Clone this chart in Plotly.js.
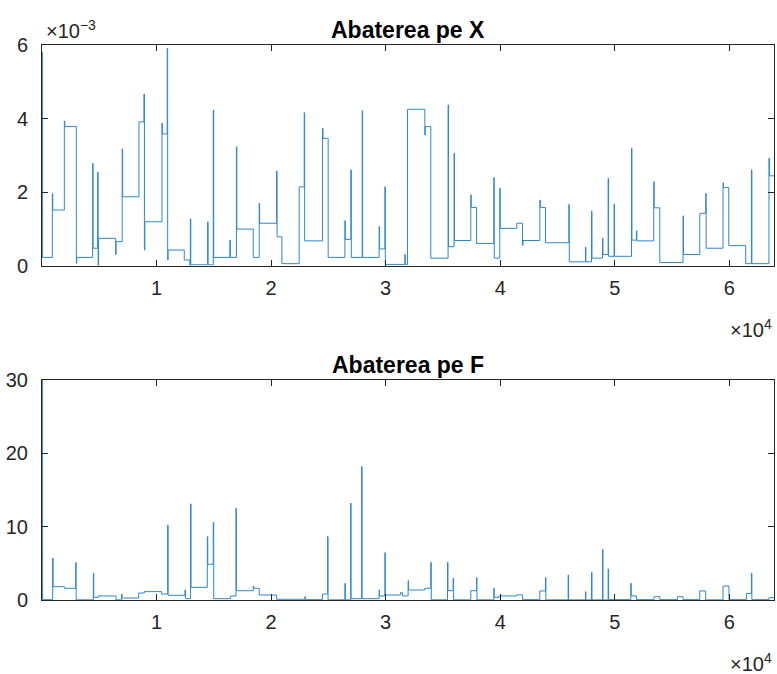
<!DOCTYPE html>
<html>
<head>
<meta charset="utf-8">
<script src="https://cdn.plot.ly/plotly-3.0.1.min.js"></script>
<style>
html,body{margin:0;padding:0;background:#fff;}
#chart{width:777px;height:674px;}
</style>
</head>
<body>
<div id="chart"></div>
<script>
// ---------- DATA ----------
// Top panel: deviation on X, values in units of 1e-3
const topStart = [0, 900, 1950, 3000, 4420, 4860, 6430, 7000, 8460, 8900,
  10470, 10930, 12420, 12910, 14460, 14950, 16400, 16970, 18440, 18960,
  20480, 20940, 22450, 22890, 24490, 24980, 26440, 26960, 27950, 29430,
  29930, 31675, 31910, 33420, 33940, 35450, 35970, 37430, 37930, 39440,
  39960, 41450, 41950, 43460, 43950, 45990, 47440, 47970, 48930, 49420,
  49940, 51460, 51890, 53400, 53930, 55960, 57420, 57940, 59450, 59950,
  61430, 61930, 63460];
const topSpikes = [[5.8], [1.95], [3.93], [0.06], [2.78], [2.54, 0], [0.3], [3.17], [], [4.66, 0.42],
  [3.87], [5.91, 0.15], [], [0, 1.27], [1.19], [4.23], [0.69], [3.23], [], [1.69],
  [2.57], [], [], [4.16], [3.73], [], [1.22], [2.6], [4.21], [1.06],
  [2.14], [0.3], [], [3.55], [], [4.37], [3.05], [1.92], [], [2.39],
  [2.1], [], [0.55], [1.78], [], [1.66], [0.5], [1.48], [0.74], [2.37],
  [1.67], [3.19], [0.94], [2.28], [], [1.35], [1.4], [1.96], [2.25], [],
  [], [2.6], [2.92]];
const topLevel = [0.22, 1.51, 3.78, 0.22, 0.47, 0.74, 0.65, 1.87, 3.91, 1.19,
  3.58, 0.42, 0.15, 0.02, 0.02, 0.22, 0.22, 0.99, 0.22, 1.15,
  0.78, 0.05, 2.14, 0.67, 3.46, 0.22, 0.71, 0.22, 0.22, 0.45,
  0.03, 0.03, 4.25, 3.78, 0.2, 0.51, 0.68, 1.58, 0.6, 0.2,
  1.01, 1.15, 0.68, 1.58, 0.62, 0.1, 0.1, 0.2, 0.3, 0.25,
  0.25, 0.69, 0.67, 1.57, 0.08, 0.3, 1.42, 0.47, 2.12, 0.54,
  0.05, 0.05, 2.44];

// Bottom panel: deviation on F
const botStart = [0, 930, 1950, 2940, 4480, 4910, 6460, 6950, 8440, 8930,
  10440, 10970, 12480, 12970, 14430, 14950, 16460, 16930, 18440, 18960,
  20480, 22950, 24490, 24930, 26440, 26940, 27900, 29430, 29930, 31290,
  31470, 31960, 33420, 33940, 35400, 35890, 37430, 37930, 39440, 39900,
  41420, 41950, 43460, 43950, 45930, 47440, 47970, 48930, 49420, 51400,
  51890, 53430, 53930, 55470, 55960, 57420, 57940, 59450, 59970, 61490,
  61930, 63470];
const botSpikes = [[30], [5.7], [], [5.1], [3.64], [], [], [0.82], [], [],
  [], [10.2], [1.36], [13.1], [8.64], [10.6], [], [12.5], [1.9], [],
  [], [0.45], [], [8.64], [2.27], [13.2], [18.2], [1.36], [6.45], [],
  [], [2.64], [], [5.14], [5.14], [2.96], [], [3.05], [1.6], [],
  [], [], [], [3.05], [3.4], [1.14], [3.77], [6.9], [4.23], [2.27],
  [], [], [], [], [], [], [], [], [], [],
  [3.64], []];
const botLevel = [0.05, 1.82, 1.6, 0.02, 0.36, 0.55, 0.02, 0.27, 0.95, 1.14,
  0.82, 0.64, 0.18, 1.73, 4.87, 0.18, 0.55, 1.27, 1.6, 0.68,
  0.1, 0.05, 0.82, 0.02, 0.02, 0.18, 0.18, 0.55, 0.68, 1.0,
  0.55, 1.36, 1.6, 0.02, 1.27, 0.02, 1.27, 0.02, 0.36, 0.55,
  0.7, 0.05, 1.23, 0.02, 0.02, 0.02, 0.02, 0.02, 0.05, 0.55,
  0.05, 0.45, 0.05, 0.45, 0.05, 1.23, 0.02, 1.9, 0.05, 0.9,
  0.05, 0.32];

const lastSample = 63900;
const xTickVals = [10000, 20000, 30000, 40000, 50000, 60000];
const xTickText = ['1', '2', '3', '4', '5', '6'];
const topTickVals = [0, 2, 4, 6];
const botTickVals = [0, 10, 20, 30];
const titles = ['Abaterea pe X', 'Abaterea pe F'];

// ---------- BUILD ----------
function buildSteps(starts, spikes, levels, endX, scale) {
  const dx = 40;
  const xs = [], ys = [];
  for (let i = 0; i < starts.length; i++) {
    const sp = spikes[i];
    for (let k = 0; k < sp.length; k++) {
      xs.push(starts[i] + k * dx);
      ys.push(sp[k] * scale);
    }
    xs.push(starts[i] + sp.length * dx);
    ys.push(levels[i] * scale);
  }
  xs.push(endX);
  ys.push(levels[levels.length - 1] * scale);
  return {xs, ys};
}

const seriesX = buildSteps(topStart, topSpikes, topLevel, lastSample, 1e-3);
const seriesF = buildSteps(botStart, botSpikes, botLevel, lastSample, 1);

const lineStyle = {color: '#2f86cc', width: 1, shape: 'hv'};

const traces = [
  {x: seriesX.xs, y: seriesX.ys, type: 'scatter', mode: 'lines', line: lineStyle, xaxis: 'x', yaxis: 'y', hoverinfo: 'skip'},
  {x: seriesF.xs, y: seriesF.ys, type: 'scatter', mode: 'lines', line: lineStyle, xaxis: 'x2', yaxis: 'y2', hoverinfo: 'skip'}
];

const fam = 'Liberation Sans, Arial, sans-serif';
const axisFont = {family: fam, size: 20, color: '#262626'};
const titleFont = {family: fam, size: 23, color: '#000'};
const baseAxis = {
  showline: true, linecolor: '#262626', linewidth: 1, mirror: 'ticks',
  ticks: 'inside', ticklen: 6, tickcolor: '#262626', tickwidth: 1,
  showgrid: false, zeroline: false, tickfont: axisFont, fixedrange: true
};

const xAxisBase = Object.assign({}, baseAxis, {
  range: [0, lastSample], tickmode: 'array', tickvals: xTickVals, ticktext: xTickText,
  ticklabelstandoff: 4
});

const layout = {
  width: 777, height: 674,
  margin: {l: 42, r: 3, t: 45, b: 74},
  paper_bgcolor: '#ffffff', plot_bgcolor: '#ffffff',
  showlegend: false,
  xaxis: Object.assign({}, xAxisBase, {anchor: 'y', domain: [0, 1]}),
  yaxis: Object.assign({}, baseAxis, {
    domain: [0.6027, 1], anchor: 'x', range: [0, 0.006],
    tickmode: 'array', tickvals: topTickVals.map(v => v * 1e-3), ticktext: topTickVals.map(String),
    ticklabelstandoff: 9
  }),
  xaxis2: Object.assign({}, xAxisBase, {anchor: 'y2', domain: [0, 1]}),
  yaxis2: Object.assign({}, baseAxis, {
    domain: [0, 0.3964], anchor: 'x2', range: [0, 30],
    tickmode: 'array', tickvals: botTickVals, ticktext: botTickVals.map(String),
    ticklabelstandoff: 9
  }),
  annotations: [
    {text: '<b>' + titles[0] + '</b>', xref: 'paper', yref: 'paper', x: 0.5, y: 1, yshift: 15,
     xanchor: 'center', yanchor: 'middle', showarrow: false, font: titleFont},
    {text: '<b>' + titles[1] + '</b>', xref: 'paper', yref: 'paper', x: 0.5, y: 0.3964, yshift: 15,
     xanchor: 'center', yanchor: 'middle', showarrow: false, font: titleFont},
    {text: '×10<sup>−3</sup>', xref: 'paper', yref: 'paper', x: 0, y: 1, xshift: 2, yshift: 16,
     xanchor: 'left', yanchor: 'middle', showarrow: false, font: axisFont},
    {text: '×10<sup>4</sup>', xref: 'paper', yref: 'paper', x: 1, y: 0.6027, yshift: -63,
     xanchor: 'right', yanchor: 'middle', showarrow: false, font: axisFont},
    {text: '×10<sup>4</sup>', xref: 'paper', yref: 'paper', x: 1, y: 0, yshift: -62,
     xanchor: 'right', yanchor: 'middle', showarrow: false, font: axisFont}
  ]
};

Plotly.newPlot('chart', traces, layout, {displayModeBar: false, staticPlot: true});
</script>
</body>
</html>
